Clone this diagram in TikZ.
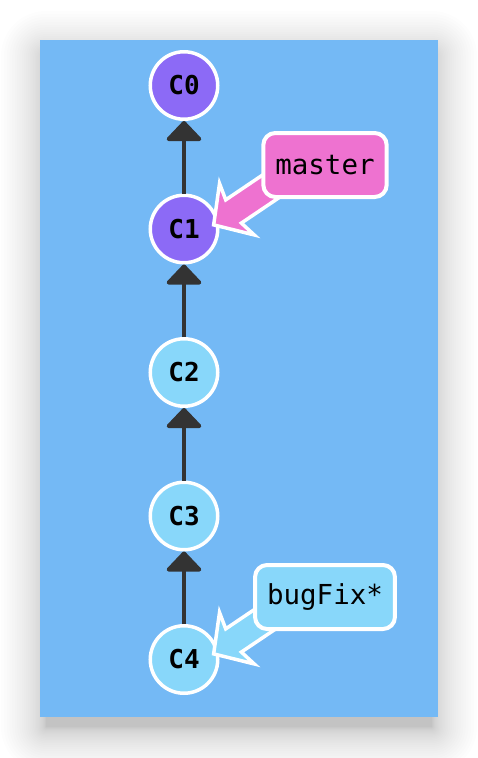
\documentclass[tikz,border=0pt]{standalone}
\usepackage{fontspec}
\newfontfamily\gitmono{DejaVu Sans Mono}
\usetikzlibrary{arrows.meta,calc}
\definecolor{bgblue}{HTML}{74B9F5}
\definecolor{cpurple}{HTML}{8C6AF6}
\definecolor{clight}{HTML}{88D7FA}
\definecolor{cpink}{HTML}{EE72D0}
\definecolor{agray}{HTML}{333333}
\tikzset{
  commit/.style={circle, draw=white, line width=3.5pt, minimum size=67.5pt, inner sep=0pt,
    font=\gitmono\bfseries\fontsize{26}{26}\selectfont, text=black},
  carrow/.style={draw=agray, line width=4pt, -{Triangle[width=39pt,length=21pt,round]}},
  branchlabel/.style={rectangle, rounded corners=12pt, draw=white, line width=4pt,
    minimum height=64pt, inner xsep=12pt, inner ysep=0pt,
    font=\gitmono\fontsize{27.5}{27.5}\selectfont, text=black},
  branchshape/.style={draw=white, line width=3.5pt, line join=miter}
}
\begin{document}
\begin{tikzpicture}[x=1pt,y=-1pt]
\useasboundingbox (0,0) rectangle (478,758);
% shadow
\foreach \k in {1,...,30}{
  \pgfmathsetmacro\e{45*(\k/30)^2}
  \fill[black, opacity=0.009, rounded corners=\e pt] (46-\e,56-\e) rectangle (432+\e,727+\e);
}
\fill[bgblue] (40,40) rectangle (438,717);
% commits
\node[commit, fill=cpurple] (C0) at (184,85.5) {C0};
\node[commit, fill=cpurple] (C1) at (184,229) {C1};
\node[commit, fill=clight] (C2) at (184,372.5) {C2};
\node[commit, fill=clight] (C3) at (184,516) {C3};
\node[commit, fill=clight] (C4) at (184,659.5) {C4};
\draw[carrow] (C1) -- (C0);
\draw[carrow] (C2) -- (C1);
\draw[carrow] (C3) -- (C2);
\draw[carrow] (C4) -- (C3);
% branch arrows
\begin{scope}[shift={($(C1)+(28,-3)$)}, rotate=34]
  \filldraw[branchshape, fill=cpink] (2,0) -- (30,31) -- (26,14) -- (125,14) -- (125,-14) -- (26,-14) -- (30,-31) -- cycle;
\end{scope}
\begin{scope}[shift={($(C4)+(28,-4.5)$)}, rotate=34]
  \filldraw[branchshape, fill=clight] (2,0) -- (30,31) -- (26,14) -- (125,14) -- (125,-14) -- (26,-14) -- (30,-31) -- cycle;
\end{scope}
% branch labels
\node[branchlabel, fill=cpink] (master) at (325,165) {master};
\node[branchlabel, fill=clight] (bugFix) at (325,597) {bugFix*};
\end{tikzpicture}
\end{document}
